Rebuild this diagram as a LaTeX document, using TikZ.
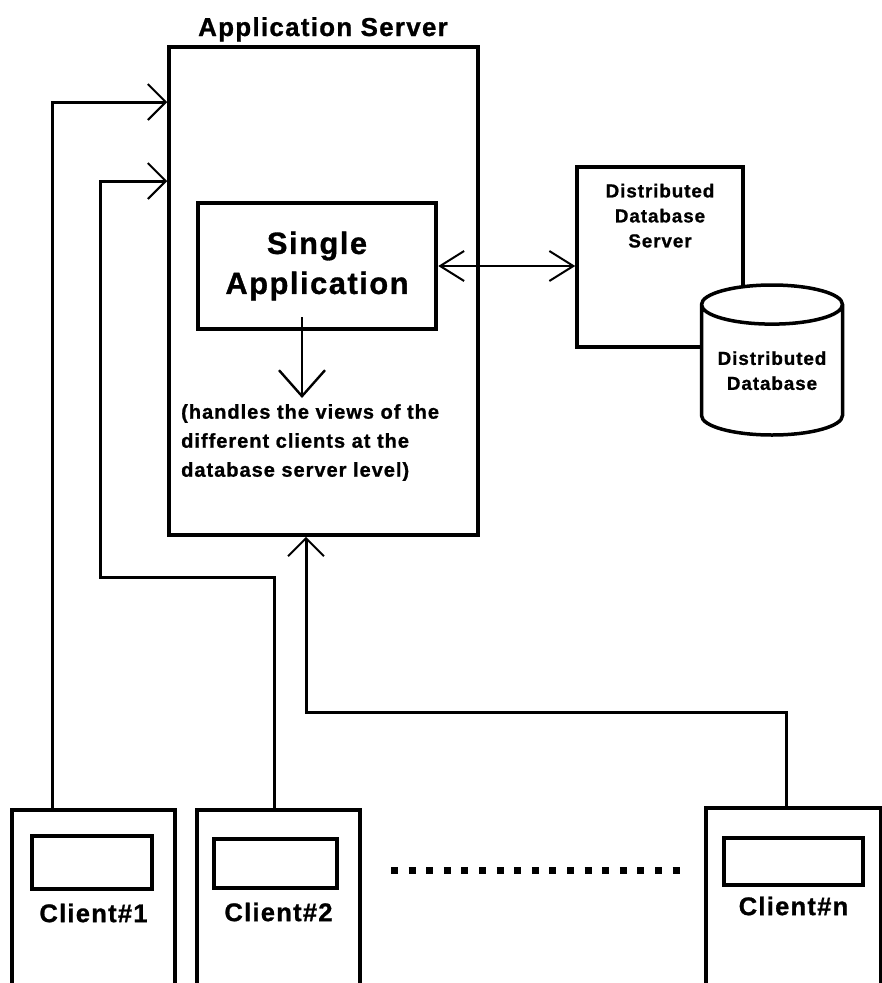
\documentclass[tikz,border=0pt]{standalone}
\usepackage{fontspec}
\setmainfont{Liberation Sans}[LetterSpace=5, BoldFeatures={FakeBold=1}]
\usetikzlibrary{arrows.meta,shapes.geometric}

\begin{document}
\begin{tikzpicture}[x=1pt, y=-1pt,
  box/.style={draw, line width=3.5pt, inner sep=0pt, align=center, font=\bfseries},
  scr/.style={draw, line width=3.5pt, inner sep=0pt},
  clientbox/.style={box, font=\bfseries\fontsize{25.5}{30}\selectfont},
  arr/.style={-{Straight Barb[length=18pt,width=36pt,line width=2pt]}, line width=3pt},
  bigarr/.style={-{Straight Barb[length=26pt,width=46pt,line width=2.4pt]}, line width=2.6pt},
  dblarr/.style={{Straight Barb[length=24pt,width=30pt,line width=2pt]}-{Straight Barb[length=24pt,width=30pt,line width=2pt]}, line width=2.8pt}]

\useasboundingbox (0,0) rectangle (882,983);

% server side
\node[box, minimum width=309, minimum height=488] at (323.5,291) (appsrv) {};
\node[font=\bfseries\fontsize{25.9}{30}\selectfont, anchor=base, inner sep=0pt] at (323,36) (title) {Application Server};

\node[box, line width=4.5pt, minimum width=238, minimum height=126,
  font=\bfseries\fontsize{30.8}{40}\selectfont] at (317,266) (sapp) {Single\\Application};

\node[anchor=north west, align=left, inner sep=0pt,
  font=\bfseries\fontsize{20}{29}\selectfont] at (181,404) (views)
  {(handles the views of the\\ different clients at the\\ database server level)};

\node[box, minimum width=166, minimum height=180,
  label={[font=\bfseries\fontsize{18.8}{25}\selectfont, align=center, anchor=north, yshift=-15pt]north:Distributed\\Database\\Server}]
  at (660,257) (dbsrv) {};

\node[draw, cylinder, shape border rotate=90, aspect=0.36, fill=white, line width=3.5pt,
  minimum width=141, minimum height=150, inner sep=0pt, align=center, anchor=shape center,
  font=\bfseries\fontsize{18.8}{25}\selectfont] at (772,360) (ddb) {Distributed\\Database};

% clients
\node[clientbox, minimum width=163, minimum height=206] at (93.5,913) (c1) {Client\#1};
\node[clientbox, minimum width=163, minimum height=204] at (278.5,912) (c2) {Client\#2};
\node[clientbox, minimum width=175, minimum height=196] at (793.5,906) (cn) {Client\#n};

\node[scr, minimum width=120, minimum height=53] at (92,862.5) (s1) {};
\node[scr, minimum width=123, minimum height=49] at (275.5,863.5) (s2) {};
\node[scr, minimum width=139, minimum height=47] at (793.5,861.5) (sn) {};

\draw[line width=7pt, dash pattern=on 7pt off 10.6pt] (391,870) -- (689,870);

% connections
\coordinate (in1) at (appsrv.west |- 0,102);
\coordinate (in2) at (appsrv.west |- 0,181);
\coordinate (bend2) at (100,577);
\coordinate (bendn) at (306,712);

\draw[arr] (c1.north -| 52,0) |- (in1);
\draw[arr] (c2.north -| 274,0) |- (bend2) |- (in2);
\draw[arr] (cn.north -| 786,0) |- (bendn) -- (appsrv.south -| bendn);
\draw[dblarr] (sapp.east) -- (dbsrv.west |- sapp.east);
\draw[bigarr] ([xshift=-15pt,yshift=14pt]sapp.south) -- ([xshift=-15pt,yshift=6pt]sapp.south |- views.north);
\end{tikzpicture}
\end{document}
